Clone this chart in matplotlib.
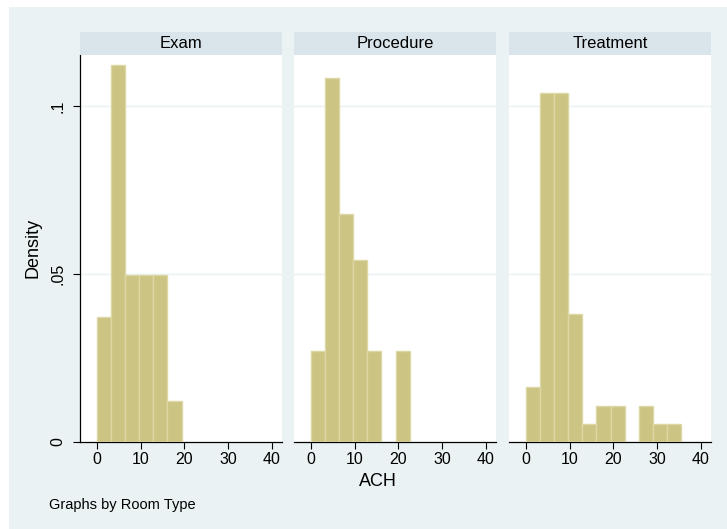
import numpy as np
import matplotlib
matplotlib.use("Agg")
import matplotlib.pyplot as plt
from matplotlib.patches import Rectangle

plt.rcParams["font.family"] = ["Liberation Sans", "DejaVu Sans"]

# histogram data (density per bin, common bins of width ~3.22 from 0)
bin_width = 3.22
room_types = ["Exam", "Procedure", "Treatment"]
exam = [0.0373, 0.1121, 0.0497, 0.0497, 0.0497, 0.0122]
procedure = [0.0271, 0.1085, 0.0678, 0.0542, 0.0271, 0.0, 0.0271]
treatment = [0.0163, 0.1038, 0.1038, 0.0381, 0.0053, 0.0107, 0.0107, 0.0, 0.0107, 0.0053, 0.0053]
densities = [exam, procedure, treatment]
xticks = [0, 10, 20, 30, 40]
yticks = [0, 0.05, 0.1]
yticklabels = ["0", ".05", ".1"]

bg = "#EAF2F3"
strip_col = "#D9E5EA"
bar_col = "#CCC483"
bar_edge = "#DDD7A4"

W, H = 727, 529
fig = plt.figure(figsize=(W / 100, H / 100), dpi=100)
fig.patch.set_facecolor("white")
fig.patches.append(Rectangle((9 / W, 0), 1 - 9 / W, 1 - 7 / H, transform=fig.transFigure,
                             facecolor=bg, edgecolor="none", zorder=-10))

lefts = [80, 294, 509]
pw = 202
bottom = 1 - 442 / H
ph = (442 - 55) / H

for i, name in enumerate(room_types):
    ax = fig.add_axes([lefts[i] / W, bottom, pw / W, ph])
    ax.set_facecolor("white")
    d = densities[i]
    edges = np.arange(len(d)) * bin_width
    keep = [j for j in range(len(d)) if d[j] > 0]
    ax.bar(edges[keep], np.array(d)[keep], width=bin_width, align="edge",
           color=bar_col, edgecolor=bar_edge, linewidth=1, zorder=3)
    ax.set_xlim(-3.886, 42.29)
    ax.set_ylim(0, 0.1152)
    for g in [0.05, 0.1]:
        ax.axhline(g, color=bg, linewidth=1, zorder=1)
    ax.set_xticks(xticks)
    ax.tick_params(axis="x", direction="out", length=4.8, width=0.8, pad=2.5, labelsize=11.5)
    for s in ["top", "right"]:
        ax.spines[s].set_visible(False)
    ax.spines["bottom"].set_linewidth(0.9)
    if i == 0:
        ax.set_yticks(yticks)
        ax.set_yticklabels(yticklabels, rotation=90, va="center")
        ax.tick_params(axis="y", direction="out", length=4.8, width=0.8, pad=6, labelsize=11.5)
        ax.spines["left"].set_linewidth(0.9)
    else:
        ax.set_yticks([])
        ax.spines["left"].set_visible(False)

    sax = fig.add_axes([lefts[i] / W, 1 - 55 / H, pw / W, 23 / H])
    sax.set_facecolor(strip_col)
    sax.set_xticks([])
    sax.set_yticks([])
    for s in sax.spines.values():
        s.set_visible(False)
    sax.text(0.5, 0.5, name, ha="center", va="center", fontsize=12, transform=sax.transAxes)

fig.text(33 / W, 1 - 248 / H, "Density", rotation=90, ha="center", va="center", fontsize=13)
fig.text(378 / W, 1 - 481 / H, "ACH", ha="center", va="center", fontsize=13)
fig.text(49 / W, 1 - 505 / H, "Graphs by Room Type", ha="left", va="center", fontsize=10.5)

fig.savefig("out.png", dpi=100, facecolor=fig.get_facecolor())
